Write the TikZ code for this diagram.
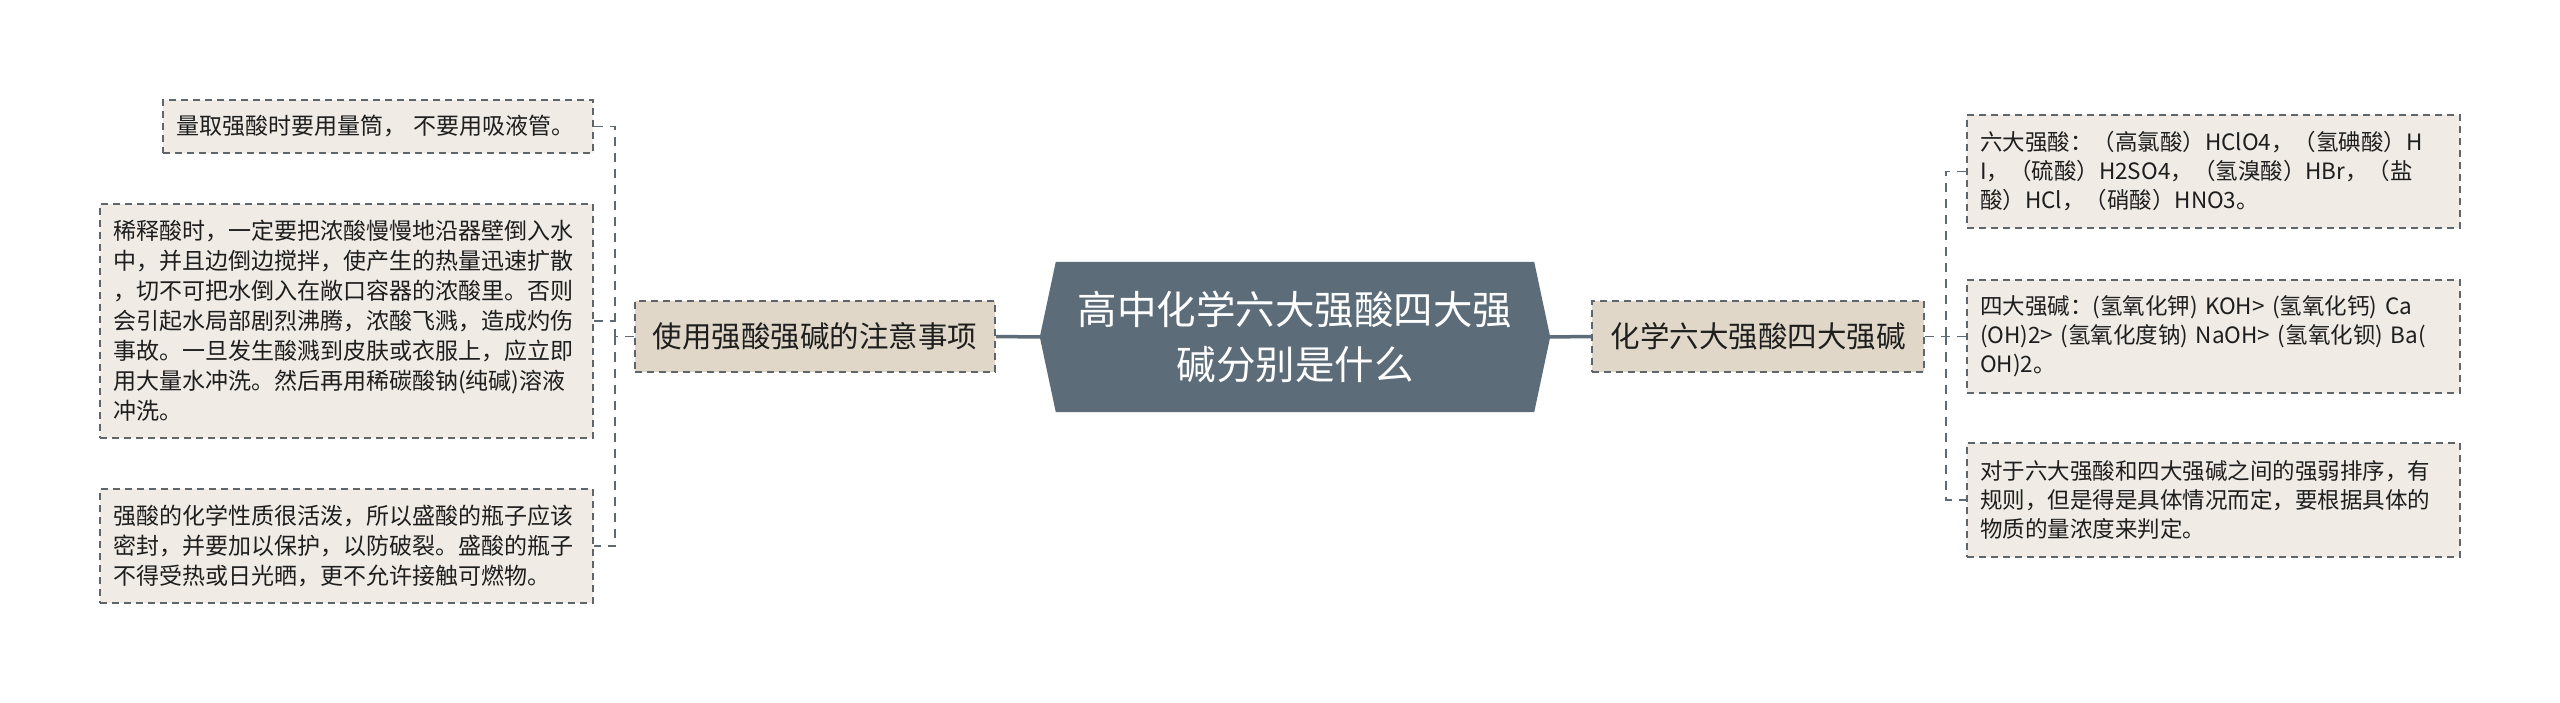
\documentclass[tikz,border=0pt]{standalone}
\usepackage{fontspec}
\setmainfont{Noto Sans CJK SC}
\usetikzlibrary{backgrounds}
\definecolor{slate}{HTML}{5C6C79}
\definecolor{topicfill}{HTML}{E0D7C8}
\definecolor{leaffill}{HTML}{F0ECE5}
\definecolor{bordergray}{HTML}{5E666C}
\definecolor{conncol}{HTML}{5E6A73}
\definecolor{txt}{HTML}{1E1E1E}
\tikzset{
  leaf/.style={draw=bordergray, line width=1.6pt, dash pattern=on 7pt off 5pt,
    fill=leaffill, inner xsep=13pt, inner ysep=0pt, align=left, text=txt,
    font=\fontsize{23}{30}\selectfont},
  topic/.style={draw=bordergray, line width=1.6pt, dash pattern=on 7pt off 5pt,
    fill=topicfill, inner sep=0pt, minimum height=71pt, text=txt,
    font=\fontsize{29.5}{35}\selectfont},
  rootnode/.style={inner sep=0pt, minimum width=478pt, minimum height=150pt,
    text=white, align=center, text width=460pt, font=\fontsize{39.5}{55}\selectfont},
  conn/.style={draw=conncol, line width=1.8pt, dash pattern=on 9pt off 7pt},
  mainconn/.style={draw=slate, line width=3.5pt}
}
\begin{document}
\begin{tikzpicture}[x=1pt,y=-1pt]
\useasboundingbox (0,0) rectangle (2560,703);

% root
\node[rootnode] (C) at (1295,337) {高中化学六大强酸四大强\\碱分别是什么};
\begin{scope}[on background layer]
\fill[white] (0,0) rectangle (2560,703);
\fill[slate] (C.north west) -- (C.north east) -- ([xshift=16pt]C.east)
  -- (C.south east) -- (C.south west) -- ([xshift=-16pt]C.west) -- cycle;
\end{scope}
\coordinate (Cw) at ([xshift=-16pt]C.west);
\coordinate (Ce) at ([xshift=16pt]C.east);

% topics
\node[topic, minimum width=360pt] (L1) at (815,336.5) {使用强酸强碱的注意事项};
\node[topic, minimum width=332pt] (L2) at (1758,336.5) {化学六大强酸四大强碱};

% left leaves
\node[leaf, minimum width=430pt, minimum height=53pt, text width=404pt] (b1) at (378,126.5)
  {量取强酸时要用量筒， 不要用吸液管。};
\node[leaf, minimum width=493pt, minimum height=234pt, text width=467pt] (b2) at (346.5,321)
  {稀释酸时，一定要把浓酸慢慢地沿器壁倒入水\\
   中，并且边倒边搅拌，使产生的热量迅速扩散\\
   ，切不可把水倒入在敞口容器的浓酸里。否则\\
   会引起水局部剧烈沸腾，浓酸飞溅，造成灼伤\\
   事故。一旦发生酸溅到皮肤或衣服上，应立即\\
   用大量水冲洗。然后再用稀碳酸钠(纯碱)溶液\\
   冲洗。};
\node[leaf, minimum width=493pt, minimum height=114pt, text width=467pt] (b3) at (346.5,546)
  {强酸的化学性质很活泼，所以盛酸的瓶子应该\\
   密封，并要加以保护，以防破裂。盛酸的瓶子\\
   不得受热或日光晒，更不允许接触可燃物。};

% right leaves
\node[leaf, minimum width=491pt, minimum height=113pt, text width=467pt,
  font=\fontsize{22.5}{29}\selectfont] (r1) at (2213.5,171.5)
  {六大强酸：（高氯酸）HClO4，（氢碘酸）H\\
   I，（硫酸）H2SO4，（氢溴酸）HBr，（盐\\
   酸）HCl，（硝酸）HNO3。};
\node[leaf, minimum width=491pt, minimum height=113pt, text width=467pt,
  font=\fontsize{22.5}{29}\selectfont] (r2) at (2213.5,336.5)
  {四大强碱：(氢氧化钾) KOH> (氢氧化钙) Ca\\
   (OH)2> (氢氧化度钠) NaOH> (氢氧化钡) Ba(\\
   OH)2。};
\node[leaf, minimum width=491pt, minimum height=114pt, text width=467pt,
  font=\fontsize{22.5}{29}\selectfont] (r3) at (2213.5,500)
  {对于六大强酸和四大强碱之间的强弱排序，有\\
   规则，但是得是具体情况而定，要根据具体的\\
   物质的量浓度来判定。};

% main connectors
\draw[mainconn] (Cw) -- (L1.east);
\draw[mainconn] (Ce) -- (L2.west);

% left branch
\coordinate (lj) at (615,336.5);
\draw[conn] (L1.west) -- (lj);
\draw[conn] (b1.east) -| (lj);
\draw[conn] (lj) |- (b3.east);
\draw[conn] (b2.east) -- (b2.east -| lj);

% right branch
\coordinate (rj) at (1946,336.5);
\draw[conn] (L2.east) -- (rj);
\draw[conn] (r1.west) -| (rj);
\draw[conn] (rj) |- (r3.west);
\draw[conn] (r2.west) -- (r2.west -| rj);
\end{tikzpicture}
\end{document}
